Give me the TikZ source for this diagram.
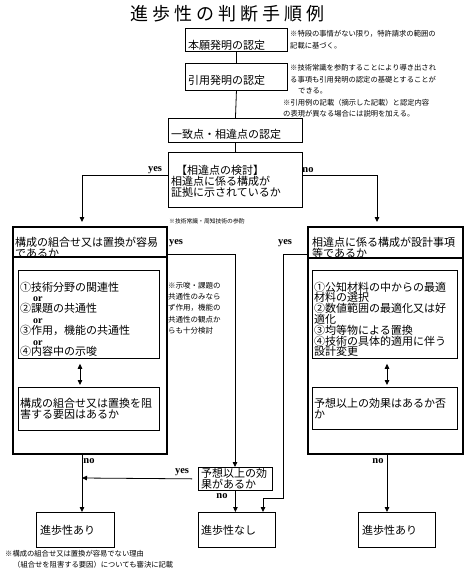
\documentclass[tikz,border=0pt]{standalone}
\usepackage{fontspec}
\setmainfont{Liberation Serif}
\newfontfamily\jp{Noto Sans CJK JP}
\newfontfamily\lat{Liberation Serif}
\usetikzlibrary{arrows.meta}
\lineskiplimit=-30pt
\begin{document}
\begin{tikzpicture}[x=1pt,y=-1pt,
  bx/.style={draw, line width=#1, anchor=north west, inner sep=0, fill=none},
  bx/.default=0.9pt,
  jt/.style={font=\jp\fontsize{11}{10.8}\selectfont, align=left, inner sep=0, anchor=west},
  nt/.style={font=\jp\fontsize{7.3}{11.5}\selectfont, align=left, inner sep=0, anchor=west},
  lab/.style={font=\lat\bfseries\fontsize{10.5}{12}\selectfont, inner sep=0},
  ln/.style={line width=0.8pt},
  arr/.style={line width=0.8pt, -{Triangle[length=5pt,width=4.5pt]}},
  darr/.style={line width=0.8pt, {Triangle[length=5pt,width=4.5pt]}-{Triangle[length=5pt,width=4.5pt]}}
]
\useasboundingbox (0,0) rectangle (467,572);
% title
\foreach \c [count=\i] in {進,歩,性,の,判,断,手,順,例}
  \node[font=\jp\fontsize{18}{20}\selectfont, inner sep=0] (t\i) at (117+22*\i,14) {\c};

% top chain
\node[bx, minimum width=102, minimum height=23] (b1) at (185,28) {};
\node[jt] (tb1) at (188,45) {本願発明の認定};
\node[nt, font=\jp\fontsize{7.3}{12}\selectfont] (n1) at (290,40) {※特段の事情がない限り，特許請求の範囲の\\記載に基づく。};
\node[bx, minimum width=102, minimum height=27] (b2) at (185,63) {};
\node[jt] (tb2) at (188,80.5) {引用発明の認定};
\node[nt] (n2) at (290,79.5) {※技術常識を参酌することにより導き出され\\る事項も引用発明の認定の基礎とすることが\\\hspace{8pt}できる。};
\node[nt, font=\jp\fontsize{7.3}{11}\selectfont] (n3) at (283,108) {※引用例の記載（摘示した記載）と認定内容\\の表現が異なる場合には説明を加える。};
\node[bx, minimum width=134, minimum height=24] (b3) at (168,118) {};
\node[jt] (tb3) at (171,134) {一致点・相違点の認定};
\node[bx=1.2pt, minimum width=134, minimum height=55] (b4) at (168,152) {};
\node[jt] (tb4) at (171,181.5) {\hspace{5pt}【相違点の検討】\\相違点に係る構成が\\証拠に示されているか};
\draw[ln] (b1.south) -- (b2.north);
\draw[ln] (b2.south) -- (b3.north);
\draw[ln] (b3.south) -- (b4.north);

% big boxes
\node[bx=1.8pt, minimum width=154, minimum height=227] (lbox) at (12,226) {};
\draw[line width=1.8pt] (lbox.west |- 0,257) -- (lbox.east |- 0,257);
\node[jt] (tlh) at (15,247.5) {構成の組合せ又は置換が容易\\であるか};
\node[bx=1.8pt, minimum width=155, minimum height=227] (rbox) at (307,226) {};
\draw[line width=1.8pt] (rbox.west |- 0,258) -- (rbox.east |- 0,258);
\node[jt] (trh) at (312,247.5) {相違点に係る構成が設計事項\\等であるか};

% left inner
\node[bx=0.8pt, minimum width=141, minimum height=88] (li1) at (18,270) {};
\node[jt] (tli1) at (20,319.4) {①技術分野の関連性\\{\lat\bfseries\fontsize{10}{10.8}\selectfont\hspace{13pt}or}\\②課題の共通性\\{\lat\bfseries\fontsize{10}{10.8}\selectfont\hspace{13pt}or}\\③作用，機能の共通性\\{\lat\bfseries\fontsize{10}{10.8}\selectfont\hspace{13pt}or}\\④内容中の示唆};
\node[bx=0.8pt, minimum width=141, minimum height=43] (li2) at (18,387) {};
\node[jt] (tli2) at (20,408.5) {構成の組合せ又は置換を阻\\害する要因はあるか};
\draw[darr, shorten <=5pt, shorten >=2pt] (li1.south -| 80,0) -- (li2.north -| 80,0);

% right inner
\node[bx=0.8pt, minimum width=145, minimum height=88] (ri1) at (312,270) {};
\node[jt] (tri1) at (314,319.4) {①公知材料の中からの最適\\材料の選択\\②数値範囲の最適化又は好\\適化\\③均等物による置換\\④技術の具体的適用に伴う\\設計変更};
\node[bx=0.8pt, minimum width=145, minimum height=42] (ri2) at (312,387) {};
\node[jt] (tri2) at (314,408.5) {予想以上の効果はあるか否\\か};
\draw[darr, shorten <=5pt, shorten >=2pt] (ri1.south -| 387,0) -- (ri2.north -| 387,0);

% middle notes
\node[nt, font=\jp\fontsize{5.8}{7}\selectfont] (n4) at (169,221) {※技術常識・周知技術の参酌};
\node[nt, font=\jp\fontsize{7.5}{11.3}\selectfont] (n5) at (168,308) {※示唆・課題の\\共通性のみなら\\ず作用，機能の\\共通性の観点か\\らも十分検討};

% middle box
\node[bx=0.8pt, minimum width=74, minimum height=23] (mid) at (198,467) {};
\node[jt] (tmid) at (201,478.5) {予想以上の効\\果があるか};

% bottom boxes
\node[bx=1.4pt, minimum width=78, minimum height=35] (bl) at (36,512) {};
\node[jt] (tbl) at (40,530) {進歩性あり};
\node[bx=1.4pt, minimum width=77, minimum height=35] (bm) at (198,512) {};
\node[jt] (tbm) at (201,530) {進歩性なし};
\node[bx=1.4pt, minimum width=77, minimum height=35] (br) at (358,512) {};
\node[jt] (tbr) at (362,530) {進歩性あり};

% footnote
\node[nt, font=\jp\fontsize{7.3}{11}\selectfont] (n6) at (5,559.5) {※構成の組合せ又は置換が容易でない理由\\\hspace{8pt}（組合せを阻害する要因）についても審決に記載};

% connectors
\coordinate (cyl) at (82,175);
\coordinate (cnr) at (377,175);
\draw[arr, shorten >=4pt] (b4.west |- cyl) -- (cyl) -- (cyl |- lbox.north);
\draw[arr, shorten >=4pt] (b4.east |- cnr) -- (cnr) -- (cnr |- rbox.north);
\node[lab] (ly1) at (155,170) {yes};
\node[lab] (ln1) at (308,170) {no};

\coordinate (cmy) at (235,254);
\draw[arr] (lbox.east |- cmy) -- (cmy) -- (cmy |- mid.north);
\node[lab] (ly2) at (176,243) {yes};

\coordinate (cry) at (283,254);
\coordinate (cry2) at (283,498);
\coordinate (cry3) at (263,498);
\draw[arr] (rbox.west |- cry) -- (cry) -- (cry2) -- (cry3) -- (cry3 |- bm.north);
\node[lab] (ly3) at (285,243) {yes};

\coordinate (cln) at (82,478);
\draw[arr] (cln |- lbox.south) -- (cln |- bl.north);
\node[lab] (ln2) at (89,461) {no};
\draw[arr, shorten <=6pt] (mid.west) -- (cln);
\node[lab] (ly4) at (182,472) {yes};

\draw[arr] (mid.south) -- (mid.south |- bm.north);
\node[lab] (ln3) at (222,496) {no};

\coordinate (crn) at (387,453);
\draw[arr] (crn |- rbox.south) -- (crn |- br.north);
\node[lab] (ln4) at (378,461) {no};
\end{tikzpicture}
\end{document}
